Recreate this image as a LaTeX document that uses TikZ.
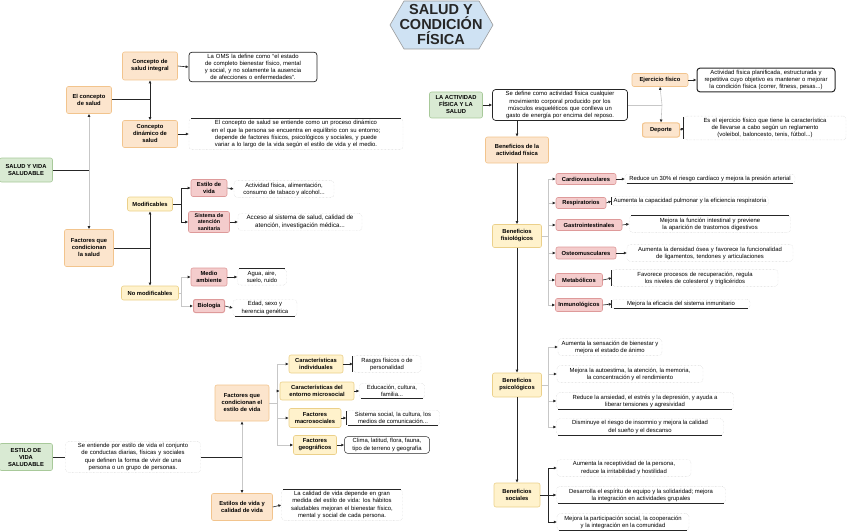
\documentclass[tikz,border=0pt]{standalone}
\usepackage{fontspec}
\setmainfont{Liberation Sans}
\usetikzlibrary{arrows.meta}
\hyphenpenalty=10000
\exhyphenpenalty=10000
\tolerance=9999

\definecolor{azulclaro}{HTML}{CFE2F3}
\definecolor{naranjo}{HTML}{FCE5CD}
\definecolor{naranjoborde}{HTML}{F2C48D}
\definecolor{amarillo}{HTML}{FFF2CC}
\definecolor{amarilloborde}{HTML}{EBD08A}
\definecolor{rosado}{HTML}{F4CCCC}
\definecolor{rosadoborde}{HTML}{DE9A9A}
\definecolor{verdecito}{HTML}{D9EAD3}
\definecolor{verdeborde}{HTML}{A8C99A}

\begin{document}
\begin{tikzpicture}[x=1pt, y=-1pt, >={Latex[length=3pt,width=3pt]},
    titulo/.style={align=center, inner sep=0pt, font=\fontsize{14.5}{15}\selectfont\bfseries, text=black!85},
    caja/.style={draw, rounded corners=2pt, align=center, inner sep=2pt, line width=.6pt,
        font=\fontsize{5.8}{7}\selectfont\bfseries},
    naranja/.style={caja, fill=naranjo, draw=naranjoborde},
    amarilla/.style={caja, fill=amarillo, draw=amarilloborde},
    rosa/.style={caja, fill=rosado, draw=rosadoborde},
    verde/.style={caja, fill=verdecito, draw=verdeborde},
    nota/.style={align=center, inner sep=2pt, rounded corners=3pt, draw=black!20, densely dotted,
        font=\fontsize{5.9}{7.1}\selectfont},
    marco/.style={nota, draw=black!85, solid, line width=.7pt},
    subraya/.style={append after command={\pgfextra{\let\notanodo\tikzlastnode}
        ([xshift=2pt]\notanodo.south west) edge[solid, draw=black!85, line width=1pt] ([xshift=-2pt]\notanodo.south east)}},
    sobreraya/.style={append after command={\pgfextra{\let\notanodo\tikzlastnode}
        ([xshift=2pt]\notanodo.north west) edge[solid, draw=black!85, line width=1pt] ([xshift=-2pt]\notanodo.north east)}},
    corchete/.style={append after command={\pgfextra{\let\notanodo\tikzlastnode}
        ([yshift=-1pt]\notanodo.north west) edge[solid, draw=black!85, line width=.9pt] ([yshift=1pt]\notanodo.south west)}},
    linea/.style={draw=black!85, line width=1pt},
    tenue/.style={draw=black!22, line width=.6pt},
    flechatenue/.style={tenue, -{Latex[length=3pt,width=3pt,color=black!85]}},
    flechita/.style={->, draw=black!85, line width=.6pt}]
    \useasboundingbox (0,0) rectangle (848,532);

    \draw[fill=azulclaro, draw=black!40, line width=.6pt] (390,25) -- (404,1) -- (479,1) -- (493,25) -- (479,49) -- (404,49) -- cycle;
    \node[titulo] (titulo) at (441,25) {SALUD Y\\CONDICIÓN\\FÍSICA};

    \node[naranja, minimum width=45, minimum height=27] (salud) at (89,100) {El concepto\\de salud};
    \node[naranja, minimum width=55, minimum height=28] (integral) at (150,66) {Concepto de\\salud integral};
    \node[marco, text width=124pt] (nintegral) at (253,67) {La OMS la define como “el estado de completo bienestar físico, mental y social, y no solamente la ausencia de afecciones o enfermedades”.};
    \node[naranja, minimum width=55, minimum height=27] (dinamico) at (150,134) {Concepto\\dinámico de\\salud};
    \node[nota, sobreraya, text width=210pt] (ndinamico) at (296,134) {El concepto de salud se entiende como un proceso dinámico en el que la persona se encuentra en equilibrio con su entorno; depende de factores físicos, psicológicos y sociales, y puede variar a lo largo de la vida según el estilo de vida y el medio.};
    \coordinate (cruce1) at (150,100);
    \draw[linea] (salud.east) -- (cruce1);
    \draw[linea,->] (cruce1) -- (integral.south);
    \draw[linea,->] (cruce1) -- (dinamico.north);
    \draw[flechita] (integral.east) -- (nintegral.west);
    \draw[flechita] (dinamico.east) -- (ndinamico.west);

    \node[verde, minimum width=53, minimum height=24] (saludvida) at (26,170) {SALUD Y VIDA\\SALUDABLE};
    \node[naranja, minimum width=49, minimum height=37] (factores) at (89,248) {Factores que\\condicionan\\la salud};
    \coordinate (rama1) at (89,170);
    \draw[linea] (saludvida.east) -- (rama1);
    \draw[flechatenue] (rama1) -- (salud.south);
    \draw[flechatenue] (rama1) -- (factores.north);

    \node[amarilla, minimum width=45, minimum height=14] (modif) at (150,204) {Modificables};
    \node[amarilla, minimum width=57, minimum height=14] (nomodif) at (150,293) {No modificables};
    \coordinate (cruce2) at (150,248);
    \draw[linea] (factores.east) -- (cruce2);
    \draw[linea,->] (cruce2) -- (modif.south);
    \draw[linea,->] (cruce2) -- (nomodif.north);

    \node[rosa, minimum width=36, minimum height=17] (estilo) at (209,188) {Estilo de\\vida};
    \node[rosa, minimum width=41, minimum height=21, font=\fontsize{5.4}{6.2}\selectfont\bfseries] (sistema) at (209,222) {Sistema de\\atención\\sanitaria};
    \node[rosa, minimum width=36, minimum height=18] (medio) at (209,277) {Medio\\ambiente};
    \node[rosa, minimum width=31, minimum height=13, line width=1pt] (biologia) at (209,306) {Biología};
    \node[nota, minimum width=100] (nestilo) at (284,189) {Actividad física, alimentación,\\consumo de tabaco y alcohol...};
    \node[nota, minimum width=124, font=\fontsize{6.2}{7.3}\selectfont] (nsistema) at (300,222) {Acceso al sistema de salud, calidad de\\atención, investigación médica...};
    \node[nota, sobreraya, minimum width=49] (nmedio) at (262,277) {Agua, aire,\\suelo, ruido};
    \node[nota, subraya, minimum width=64] (nbiologia) at (265,308) {Edad, sexo y\\herencia genética};
    \coordinate (ramamod) at (181,204);
    \coordinate (ramanomod) at (181,293);
    \draw[linea] (modif.east) -- (ramamod);
    \draw[linea,->] (ramamod) |- (estilo.west);
    \draw[linea,->] (ramamod) |- (sistema.west);
    \draw[tenue] (nomodif.east) -- (ramanomod);
    \draw[flechatenue] (ramanomod) |- (medio.west);
    \draw[flechatenue] (ramanomod) |- (biologia.west);
    \draw[flechita] (estilo.east) -- (nestilo.west);
    \draw[flechita] (sistema.east) -- (nsistema.west);
    \draw[flechita] (medio.east) -- (nmedio.west);
    \draw[flechita] (biologia.east) -- (nbiologia.west);

    \node[verde, minimum width=53, minimum height=27] (estilosalud) at (26,457) {ESTILO DE\\VIDA\\SALUDABLE};
    \node[nota, text width=131pt] (nestilosalud) at (133,457) {Se entiende por estilo de vida el conjunto de conductas diarias, físicas y sociales que definen la forma de vivir de una persona o un grupo de personas.};
    \node[naranja, minimum width=54, minimum height=36] (factestilo) at (242,403) {Factores que\\condicionan el\\estilo de vida};
    \node[naranja, minimum width=61, minimum height=27] (calidad) at (242,507) {Estilos de vida y\\calidad de vida};
    \node[nota, sobreraya, text width=117pt] (ncalidad) at (342,505) {La calidad de vida depende en gran medida del estilo de vida: los hábitos saludables mejoran el bienestar físico, mental y social de cada persona.};
    \coordinate (rama3) at (242,457);
    \draw[linea] (estilosalud.east) -- (nestilosalud.west);
    \draw[linea] (nestilosalud.east) -- (rama3);
    \draw[flechatenue] (rama3) -- (factestilo.south);
    \draw[flechatenue] (rama3) -- (calidad.north);
    \draw[flechita] (calidad.east) -- (ncalidad.west);

    \node[amarilla, minimum width=54, minimum height=18] (indiv) at (316,364) {Características\\individuales};
    \node[amarilla, minimum width=74, minimum height=18] (entorno) at (317,391) {Características del\\entorno microsocial};
    \node[amarilla, minimum width=52, minimum height=19] (macro) at (315,418) {Factores\\macrosociales};
    \node[amarilla, minimum width=43, minimum height=19] (geo) at (315,445) {Factores\\geográficos};
    \node[nota, corchete, minimum width=68] (nindiv) at (387,364) {Rasgos físicos o de\\personalidad};
    \node[nota, subraya, minimum width=65] (nentorno) at (392,391) {Educación, cultura,\\familia...};
    \node[nota, corchete, subraya, minimum width=93] (nmacro) at (393,418) {Sistema social, la cultura, los\\medios de comunicación...};
    \node[marco, line width=.5pt, minimum width=85] (ngeo) at (387,445) {Clima, latitud, flora, fauna,\\tipo de terreno y geografía};
    \coordinate (rama4) at (277,403);
    \draw[tenue] (factestilo.east) -- (rama4);
    \draw[flechatenue] (rama4) |- (indiv.west);
    \draw[flechatenue] (rama4) |- (entorno.west);
    \draw[flechatenue] (rama4) |- (macro.west);
    \draw[flechatenue] (rama4) |- (geo.west);
    \draw[flechita] (indiv.east) -- (nindiv.west);
    \draw[flechita] (entorno.east) -- (nentorno.west);
    \draw[flechita] (macro.east) -- (nmacro.west);
    \draw[flechita] (geo.east) -- (ngeo.west);

    \node[verde, minimum width=53, minimum height=26] (actfisica) at (456,105) {LA ACTIVIDAD\\FÍSICA Y LA\\SALUD};
    \node[marco, text width=131pt] (nactfisica) at (560,105) {Se define como actividad física cualquier movimiento corporal producido por los músculos esqueléticos que conlleva un gasto de energía por encima del reposo.};
    \node[naranja, minimum width=63, minimum height=26] (beneficios) at (517,150) {Beneficios de la\\actividad física};
    \node[naranja, minimum width=56, minimum height=13] (ejercicio) at (660,80) {Ejercicio físico};
    \node[naranja, minimum width=37, minimum height=14, line width=1pt] (deporte) at (661,130) {Deporte};
    \node[marco, line width=1pt, text width=134pt] (nejercicio) at (766,80) {Actividad física planificada, estructurada y repetitiva cuyo objetivo es mantener o mejorar la condición física (correr, fitness, pesas...)};
    \node[nota, corchete, text width=158pt] (ndeporte) at (765,128) {Es el ejercicio físico que tiene la característica de llevarse a cabo según un reglamento (voleibol, baloncesto, tenis, fútbol...)};
    \coordinate (rama5) at (662,105);
    \draw[flechita] (actfisica.east) -- (nactfisica.west);
    \draw[linea,->] (nactfisica.south -| beneficios.north) -- (beneficios.north);
    \draw[tenue] (nactfisica.east) -- (rama5);
    \draw[flechatenue] (rama5) -- (ejercicio.south);
    \draw[flechatenue] (rama5) -- (deporte.north);
    \draw[flechita] (ejercicio.east) -- (nejercicio.west);
    \draw[flechita] (deporte.east) -- (ndeporte.west);

    \node[amarilla, minimum width=49, minimum height=23] (fisio) at (517,236) {Beneficios\\fisiológicos};
    \node[amarilla, minimum width=49, minimum height=24] (psico) at (517,385) {Beneficios\\psicológicos};
    \node[amarilla, minimum width=46, minimum height=24] (social) at (517,495) {Beneficios\\sociales};
    \draw[linea,->] (beneficios.south) -- (fisio.north);
    \draw[linea,->] (fisio.south) -- (psico.north);
    \draw[linea,->] (psico.south) -- (social.north);

    \node[rosa, minimum width=60, minimum height=11] (cardio) at (586,179) {Cardiovasculares};
    \node[rosa, minimum width=50, minimum height=11] (respira) at (581,203) {Respiratorios};
    \node[rosa, minimum width=66, minimum height=11] (gastro) at (589,225) {Gastrointestinales};
    \node[rosa, minimum width=60, minimum height=12] (osteo) at (586,253) {Osteomusculares};
    \node[rosa, minimum width=47, minimum height=13] (metab) at (579,280) {Metabólicos};
    \node[rosa, minimum width=47, minimum height=13] (inmuno) at (579,305) {Inmunológicos};
    \node[nota, subraya, minimum width=170] (ncardio) at (710,179) {Reduce un 30\% el riesgo cardíaco y mejora la presión arterial};
    \node[nota, corchete, minimum width=150] (nrespira) at (690,201) {Aumenta la capacidad pulmonar y la eficiencia respiratoria};
    \node[nota, sobreraya, text width=157pt] (ngastro) at (710,224) {Mejora la función intestinal y previene la aparición de trastornos digestivos};
    \node[nota, text width=162pt] (nosteo) at (710,253) {Aumenta la densidad ósea y favorece la funcionalidad de ligamentos, tendones y articulaciones};
    \node[nota, corchete, text width=162pt] (nmetab) at (695,278) {Favorece procesos de recuperación, regula los niveles de colesterol y triglicéridos};
    \node[nota, corchete, subraya, minimum width=138] (ninmuno) at (681,304) {Mejora la eficacia del sistema inmunitario};
    \coordinate (rama6) at (548,236);
    \draw[tenue] (fisio.east) -- (rama6);
    \foreach \hijo in {cardio, respira, gastro, osteo, metab, inmuno} {
        \draw[flechatenue] (rama6) |- (\hijo.west);
        \draw[flechita] (\hijo.east) -- (n\hijo.west);
    }

    \node[nota, minimum width=104] (npsico1) at (610,347) {Aumenta la sensación de bienestar y\\mejora el estado de ánimo};
    \node[nota, minimum width=146] (npsico2) at (630,374) {Mejora la autoestima, la atención, la memoria,\\la concentración y el rendimiento};
    \node[nota, subraya, minimum width=177] (npsico3) at (645,401) {Reduce la ansiedad, el estrés y la depresión, y ayuda a\\liberar tensiones y agresividad};
    \node[nota, subraya, minimum width=167] (npsico4) at (640,427) {Disminuye el riesgo de insomnio y mejora la calidad\\del sueño y el descanso};
    \coordinate (rama7) at (548,385);
    \draw[tenue] (psico.east) -- (rama7);
    \foreach \hijo in {npsico1, npsico2, npsico3, npsico4}
        \draw[flechatenue] (rama7) |- (\hijo.west);

    \node[nota, minimum width=134] (nsocial1) at (624,468) {Aumenta la receptividad de la persona,\\reduce la irritabilidad y hostilidad};
    \node[nota, subraya, minimum width=169] (nsocial2) at (641,495) {Desarrolla el espíritu de equipo y la solidaridad; mejora\\la integración en actividades grupales};
    \node[nota, subraya, minimum width=132] (nsocial3) at (623,522) {Mejora la participación social, la cooperación\\y la integración en la comunidad};
    \coordinate (rama8) at (548,495);
    \draw[linea] (social.east) -- (rama8);
    \foreach \hijo in {nsocial1, nsocial2, nsocial3}
        \draw[linea,->] (rama8) |- (\hijo.west);
\end{tikzpicture}
\end{document}
